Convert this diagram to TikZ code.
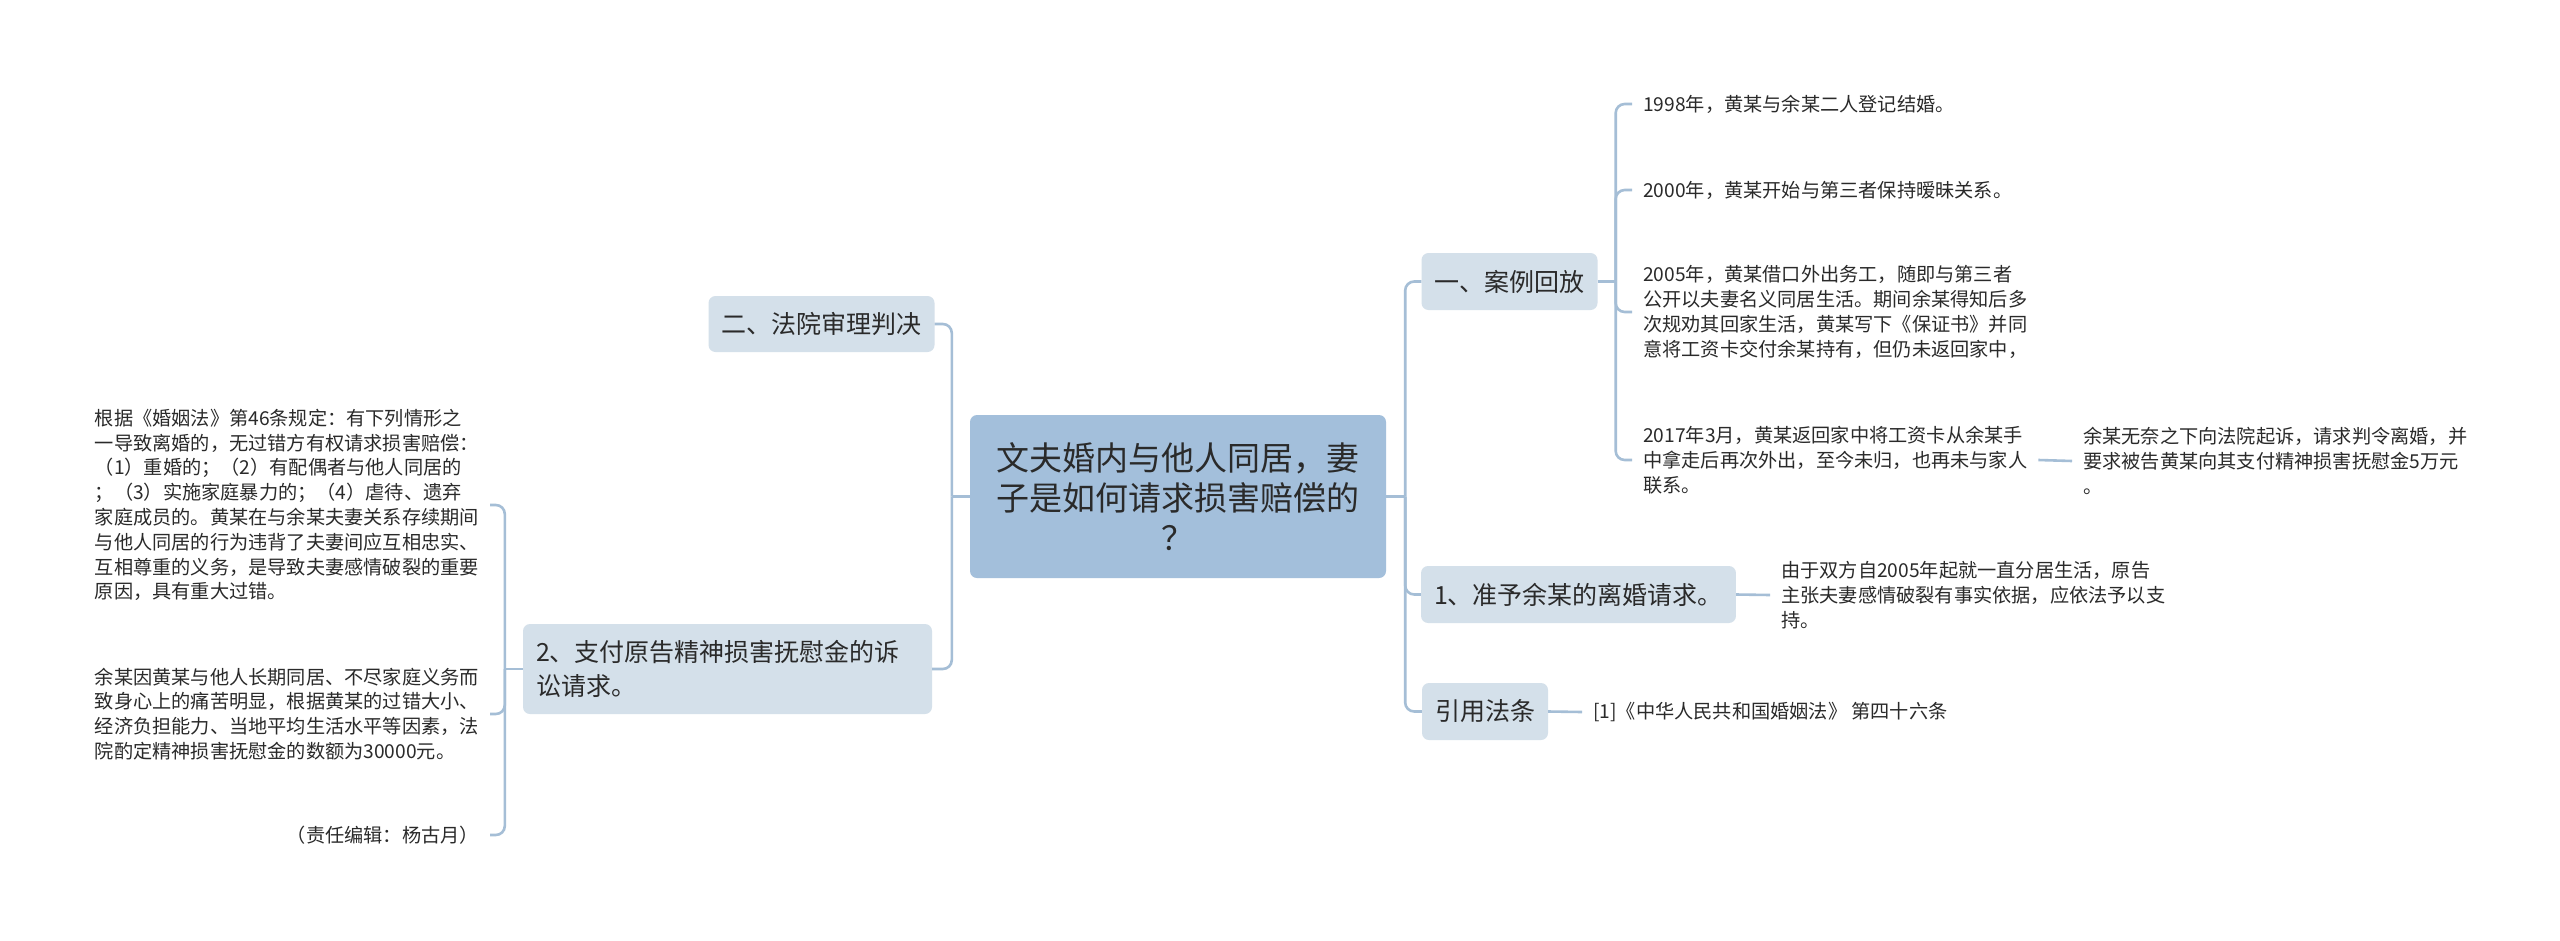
\documentclass[tikz,border=0pt]{standalone}
\usepackage{fontspec}
\setmainfont{Noto Sans CJK SC}
\usepackage{xcolor}
\usepackage{tikz}
\usetikzlibrary{positioning}

\definecolor{rootblue}{HTML}{A3BFDB}
\definecolor{topicblue}{HTML}{D4E0EA}
\definecolor{linkblue}{HTML}{A5BED6}
\definecolor{ink}{HTML}{2A2A2A}

\begin{document}
\begin{tikzpicture}[
    x=1pt, y=-1pt,
    root/.style={fill=rootblue,rounded corners=7pt,text=ink,align=center,inner sep=0pt,
        font=\fontsize{33}{40}\selectfont,minimum width=416pt,minimum height=163pt},
    topic/.style={fill=topicblue,rounded corners=7pt,text=ink,inner xsep=13pt,inner ysep=0pt,
        font=\fontsize{25}{34}\selectfont,minimum height=57pt},
    leaf/.style={text=ink,align=left,inner xsep=11pt,inner ysep=0pt,
        font=\fontsize{19.2}{24.8}\selectfont},
    link/.style={draw=linkblue,line width=2.6pt,rounded corners=9pt},
]
    \useasboundingbox[fill=white] (0,0) rectangle (2560,940);

    \node[root] (main) at (1178,496.5) {文夫婚内与他人同居，妻\\子是如何请求损害赔偿的\\？};

    \node[topic,minimum width=173pt] (case) at (1509.5,281.5) {一、案例回放};
    \node[topic,minimum width=311pt] (grant) at (1578.5,594.5) {1、准予余某的离婚请求。};
    \node[topic,minimum width=124pt] (cite) at (1485,711.5) {引用法条};
    \node[topic,minimum width=221pt,minimum height=56pt] (court) at (821.5,324) {二、法院审理判决};
    \node[topic,align=left,text width=383pt,minimum height=90pt] (pay) at (727.5,669)
        {2、支付原告精神损害抚慰金的诉\\讼请求。};

    \node[leaf,anchor=west] (y1998) at (1632,104) {1998年，黄某与余某二人登记结婚。};
    \node[leaf,anchor=west] (y2000) at (1632,190) {2000年，黄某开始与第三者保持暧昧关系。};
    \node[leaf,anchor=west] (y2005) at (1632,312) {2005年，黄某借口外出务工，随即与第三者\\公开以夫妻名义同居生活。期间余某得知后多\\次规劝其回家生活，黄某写下《保证书》并同\\意将工资卡交付余某持有，但仍未返回家中，};
    \node[leaf,anchor=west] (y2017) at (1632,460) {2017年3月，黄某返回家中将工资卡从余某手\\中拿走后再次外出，至今未归，也再未与家人\\联系。};
    \node[leaf,anchor=west] (sue) at (2072,461) {余某无奈之下向法院起诉，请求判令离婚，并\\要求被告黄某向其支付精神损害抚慰金5万元\\。};
    \node[leaf,anchor=west] (apart) at (1770,595) {由于双方自2005年起就一直分居生活，原告\\主张夫妻感情破裂有事实依据，应依法予以支\\持。};
    \node[leaf,anchor=west] (lawref) at (1582,712) {[1]《中华人民共和国婚姻法》 第四十六条};

    \node[leaf,anchor=east] (art46) at (490,505) {根据《婚姻法》第46条规定：有下列情形之\\一导致离婚的，无过错方有权请求损害赔偿：\\（1）重婚的；（2）有配偶者与他人同居的\\；（3）实施家庭暴力的；（4）虐待、遗弃\\家庭成员的。黄某在与余某夫妻关系存续期间\\与他人同居的行为违背了夫妻间应互相忠实、\\互相尊重的义务，是导致夫妻感情破裂的重要\\原因，具有重大过错。};
    \node[leaf,anchor=east] (amount) at (490,714) {余某因黄某与他人长期同居、不尽家庭义务而\\致身心上的痛苦明显，根据黄某的过错大小、\\经济负担能力、当地平均生活水平等因素，法\\院酌定精神损害抚慰金的数额为30000元。};
    \node[leaf,anchor=east] (editor) at (490,835) {（责任编辑：杨古月）};

    \draw[link] (main.east) -- ++(19,0) coordinate (rj);
    \draw[link] (rj) |- (case.west);
    \draw[link] (rj) |- (grant.west);
    \draw[link] (rj) |- (cite.west);

    \draw[link] (main.west) -- ++(-18,0) coordinate (lj);
    \draw[link] (lj) |- (court.east);
    \draw[link] (lj) |- (pay.east);

    \draw[link] (case.east) -- ++(18,0) coordinate (cj);
    \draw[link] (cj) |- (y1998.west);
    \draw[link] (cj) |- (y2000.west);
    \draw[link] (cj) |- (y2005.west);
    \draw[link] (cj) |- (y2017.west);

    \draw[link] (y2017.east) -- (sue.west);
    \draw[link] (grant.east) -- (apart.west);
    \draw[link] (cite.east) -- (lawref.west);

    \draw[link] (pay.west) -- ++(-18,0) coordinate (pj);
    \draw[link] (pj) |- (art46.east);
    \draw[link] (pj) |- (amount.east);
    \draw[link] (pj) |- (editor.east);
\end{tikzpicture}
\end{document}
